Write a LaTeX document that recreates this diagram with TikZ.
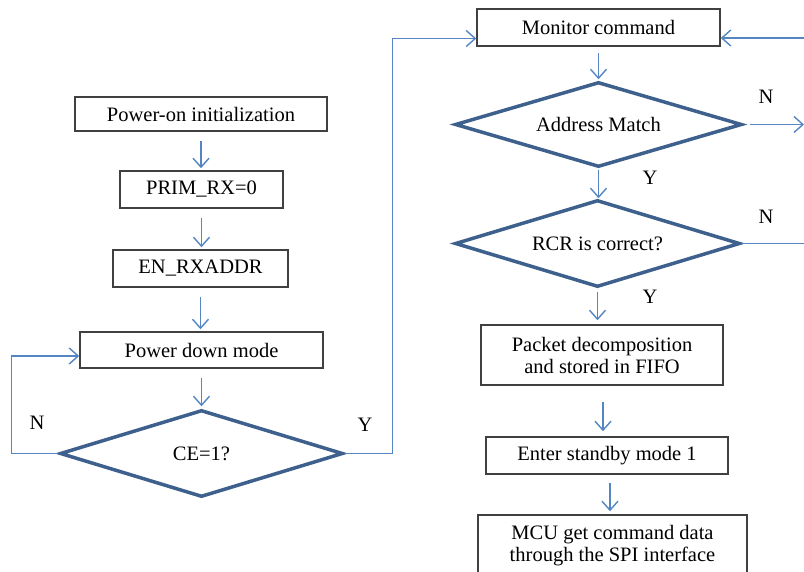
\documentclass[tikz,border=0pt]{standalone}
\usepackage{fontspec}
\setmainfont{Liberation Serif}
\usetikzlibrary{arrows.meta, shapes.geometric}
\definecolor{flowblue}{RGB}{84,134,196}
\definecolor{decblue}{RGB}{62,96,140}

\begin{document}
\begin{tikzpicture}[x=1pt,y=-1pt,font=\fontsize{20.5}{22}\selectfont]
\useasboundingbox (0,0) rectangle (804,571);

\begin{scope}[every node/.style={rectangle,draw=black!75,line width=1.5pt,fill=white,align=center,inner sep=0pt}]
    \node (init) at (201, 114) [minimum width=252, minimum height=34] {Power-on initialization};
    \node (prim) at (201.5, 189.5) [minimum width=163, minimum height=37] {PRIM\_RX=0};
    \node (enrx) at (200.5, 268.5) [minimum width=175, minimum height=37] {EN\_RXADDR};
    \node (pdown) at (201.5, 350) [minimum width=243, minimum height=36] {Power down mode};

    \node (mon) at (598.5, 27.5) [minimum width=243, minimum height=37] {Monitor command};
    \node (packet) at (602, 355) [minimum width=242, minimum height=60] {Packet decomposition\\and stored in FIFO};
    \node (standby) at (607, 455.5) [minimum width=242, minimum height=37] {Enter standby mode 1};
    \node (mcu) at (612.5, 546) [minimum width=269, minimum height=62] {MCU get command data\\through the SPI interface};
\end{scope}

\begin{scope}[every node/.style={diamond,aspect=3.3,draw=decblue,line width=3.5pt,fill=white,inner sep=0pt}]
    \node (ce) at (201.5, 453.5) [minimum width=283, minimum height=87] {CE=1?};
    \node (addr) at (598.5, 124.5) [minimum width=287, minimum height=85] {Address Match};
    \node (rcr) at (597.5, 243.5) [minimum width=285, minimum height=87] {RCR is correct?};
\end{scope}

\begin{scope}[every node/.style={inner sep=0pt}]
    \node (ceno) at (37, 423) {N};
    \node (ceyes) at (365, 425) {Y};
    \node (addrno) at (766, 97) {N};
    \node (addryes) at (650, 178) {Y};
    \node (rcrno) at (766, 217) {N};
    \node (rcryes) at (650, 297) {Y};
\end{scope}

\coordinate (rloop) at (804, 38);
\coordinate (addrout) at (804, 124.5);
\coordinate (rcrout) at (804, 243.5);

\begin{scope}[>={Straight Barb[length=9pt,width=16pt]},
              every path/.style={draw=flowblue,line width=1.4pt}]
    \path [->, shorten <=9pt, shorten >=2pt] (init) -- (init |- prim.north);
    \path [->, shorten <=9pt, shorten >=2pt] (prim) -- (prim |- enrx.north);
    \path [->, shorten <=9pt, shorten >=2pt] (enrx) -- (enrx |- pdown.north);
    \path [->, shorten <=9pt, shorten >=2pt] (pdown) -- (pdown |- ce.north);
    \path [->] (ce.west) -- ++(-47,0) |- ([yshift=-6pt]pdown.west);
    \path [->] (ce.east) -- ++(48,0) |- ([yshift=-11pt]mon.west);

    \path [->] (rloop) -- (rloop -| mon.east);
    \path [->, shorten <=6pt, shorten >=1pt] (mon) -- (mon |- addr.north);
    \path [->, shorten <=6pt] (addr.east) -- (addrout);
    \path (rcr.east) -- (rcrout);
    \path [->, shorten <=1pt] (addr.south) -- (addr.south |- rcr.north);
    \path [->, shorten <=3pt, shorten >=4pt] (rcr.south) -- (rcr.south |- packet.north);
    \path [->, shorten <=16pt, shorten >=5pt] (packet.south -| 603,0) -- (standby.north -| 603,0);
    \path [->, shorten <=8pt, shorten >=3pt] (standby.south -| 610,0) -- (mcu.north -| 610,0);
\end{scope}
\end{tikzpicture}
\end{document}
